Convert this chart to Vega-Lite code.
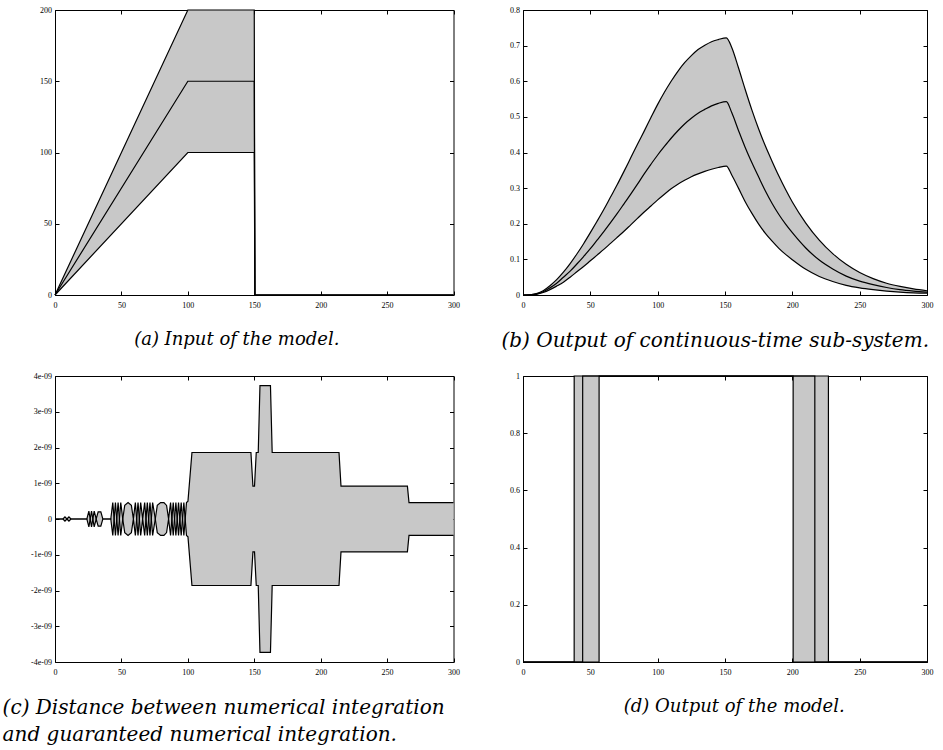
{
  "$schema": "https://vega.github.io/schema/vega-lite/v6.json",
  "padding": {"left": 2, "top": 5, "right": 0, "bottom": 0},
  "background": "white",
  "columns": 2,
  "align": "all",
  "bounds": "flush",
  "spacing": {"row": 80, "column": 64},
  "config": {
    "view": {"stroke": "black", "strokeWidth": 1},
    "axis": {"domain": false, "grid": false, "tickSize": -4, "tickColor": "black", "tickWidth": 1, "labelFont": "Liberation Serif", "labelFontSize": 8, "labelColor": "black", "labelPadding": 7.5, "labelFlush": false, "labelOverlap": false, "title": null, "minExtent": 0, "labelExpr": "'' + datum.value"},
    "axisX": {"labelPadding": 10},
    "title": {"font": "DejaVu Serif", "fontSize": 19, "fontStyle": "italic", "fontWeight": "normal", "color": "black", "orient": "bottom", "anchor": "middle", "frame": "bounds", "offset": 22}
  },
  "datasets": {
    "a": [
      {"i": 0, "x": 0, "lo": 0, "mid": 0, "hi": 0},
      {"i": 1, "x": 100, "lo": 100, "mid": 150, "hi": 200},
      {"i": 2, "x": 150, "lo": 100, "mid": 150, "hi": 200},
      {"i": 3, "x": 150.5, "lo": 0, "mid": 0, "hi": 0},
      {"i": 4, "x": 300, "lo": 0, "mid": 0, "hi": 0}
    ],
    "b": [
      {"i": 0, "x": 0, "lo": 0, "mid": 0, "hi": 0},
      {"i": 1, "x": 5, "lo": 0.0003, "mid": 0.0005, "hi": 0.0007},
      {"i": 2, "x": 10, "lo": 0.002, "mid": 0.003, "hi": 0.004},
      {"i": 3, "x": 15, "lo": 0.007, "mid": 0.009, "hi": 0.012},
      {"i": 4, "x": 20, "lo": 0.015, "mid": 0.02, "hi": 0.026},
      {"i": 5, "x": 25, "lo": 0.025, "mid": 0.033, "hi": 0.043},
      {"i": 6, "x": 30, "lo": 0.036, "mid": 0.05, "hi": 0.064},
      {"i": 7, "x": 35, "lo": 0.05, "mid": 0.067, "hi": 0.088},
      {"i": 8, "x": 40, "lo": 0.065, "mid": 0.087, "hi": 0.115},
      {"i": 9, "x": 45, "lo": 0.08, "mid": 0.108, "hi": 0.144},
      {"i": 10, "x": 50, "lo": 0.096, "mid": 0.13, "hi": 0.175},
      {"i": 11, "x": 55, "lo": 0.112, "mid": 0.154, "hi": 0.207},
      {"i": 12, "x": 60, "lo": 0.128, "mid": 0.178, "hi": 0.24},
      {"i": 13, "x": 65, "lo": 0.145, "mid": 0.203, "hi": 0.275},
      {"i": 14, "x": 70, "lo": 0.162, "mid": 0.229, "hi": 0.31},
      {"i": 15, "x": 75, "lo": 0.179, "mid": 0.256, "hi": 0.347},
      {"i": 16, "x": 80, "lo": 0.197, "mid": 0.283, "hi": 0.385},
      {"i": 17, "x": 85, "lo": 0.215, "mid": 0.311, "hi": 0.423},
      {"i": 18, "x": 90, "lo": 0.233, "mid": 0.34, "hi": 0.46},
      {"i": 19, "x": 95, "lo": 0.25, "mid": 0.367, "hi": 0.498},
      {"i": 20, "x": 100, "lo": 0.267, "mid": 0.393, "hi": 0.535},
      {"i": 21, "x": 105, "lo": 0.283, "mid": 0.417, "hi": 0.569},
      {"i": 22, "x": 110, "lo": 0.298, "mid": 0.44, "hi": 0.6},
      {"i": 23, "x": 115, "lo": 0.311, "mid": 0.461, "hi": 0.628},
      {"i": 24, "x": 120, "lo": 0.322, "mid": 0.48, "hi": 0.652},
      {"i": 25, "x": 125, "lo": 0.332, "mid": 0.496, "hi": 0.672},
      {"i": 26, "x": 130, "lo": 0.34, "mid": 0.51, "hi": 0.689},
      {"i": 27, "x": 135, "lo": 0.347, "mid": 0.521, "hi": 0.701},
      {"i": 28, "x": 140, "lo": 0.353, "mid": 0.531, "hi": 0.711},
      {"i": 29, "x": 145, "lo": 0.358, "mid": 0.538, "hi": 0.717},
      {"i": 30, "x": 151, "lo": 0.362, "mid": 0.543, "hi": 0.722},
      {"i": 31, "x": 155, "lo": 0.337, "mid": 0.512, "hi": 0.695},
      {"i": 32, "x": 160, "lo": 0.3, "mid": 0.462, "hi": 0.638},
      {"i": 33, "x": 165, "lo": 0.262, "mid": 0.414, "hi": 0.577},
      {"i": 34, "x": 170, "lo": 0.229, "mid": 0.371, "hi": 0.519},
      {"i": 35, "x": 175, "lo": 0.199, "mid": 0.331, "hi": 0.466},
      {"i": 36, "x": 180, "lo": 0.173, "mid": 0.292, "hi": 0.418},
      {"i": 37, "x": 185, "lo": 0.151, "mid": 0.257, "hi": 0.375},
      {"i": 38, "x": 190, "lo": 0.131, "mid": 0.226, "hi": 0.334},
      {"i": 39, "x": 195, "lo": 0.114, "mid": 0.199, "hi": 0.296},
      {"i": 40, "x": 200, "lo": 0.099, "mid": 0.175, "hi": 0.261},
      {"i": 41, "x": 210, "lo": 0.072, "mid": 0.132, "hi": 0.202},
      {"i": 42, "x": 220, "lo": 0.052, "mid": 0.098, "hi": 0.154},
      {"i": 43, "x": 230, "lo": 0.038, "mid": 0.073, "hi": 0.116},
      {"i": 44, "x": 240, "lo": 0.027, "mid": 0.053, "hi": 0.086},
      {"i": 45, "x": 250, "lo": 0.02, "mid": 0.039, "hi": 0.063},
      {"i": 46, "x": 260, "lo": 0.015, "mid": 0.029, "hi": 0.046},
      {"i": 47, "x": 270, "lo": 0.011, "mid": 0.021, "hi": 0.033},
      {"i": 48, "x": 280, "lo": 0.008, "mid": 0.015, "hi": 0.024},
      {"i": 49, "x": 290, "lo": 0.006, "mid": 0.011, "hi": 0.017},
      {"i": 50, "x": 300, "lo": 0.005, "mid": 0.008, "hi": 0.012}
    ],
    "c": [
      {"i": 0, "x": 0, "lo": 0, "hi": 0},
      {"i": 1, "x": 6, "lo": 0, "hi": 0},
      {"i": 2, "x": 7.5, "lo": -6e-11, "hi": 6e-11},
      {"i": 3, "x": 9, "lo": 0, "hi": 0},
      {"i": 4, "x": 10.5, "lo": -6e-11, "hi": 6e-11},
      {"i": 5, "x": 12, "lo": 0, "hi": 0},
      {"i": 6, "x": 24, "lo": 0, "hi": 0},
      {"i": 7, "x": 25.5, "lo": -2.2e-10, "hi": 2.2e-10},
      {"i": 8, "x": 27.5, "lo": 2.2e-10, "hi": -2.2e-10},
      {"i": 9, "x": 29.5, "lo": -2.2e-10, "hi": 2.2e-10},
      {"i": 10, "x": 31, "lo": 0, "hi": 0},
      {"i": 11, "x": 32.5, "lo": -2e-10, "hi": 2e-10},
      {"i": 12, "x": 34.5, "lo": -2e-10, "hi": 2e-10},
      {"i": 13, "x": 36, "lo": 0, "hi": 0},
      {"i": 14, "x": 42, "lo": 0, "hi": 0},
      {"i": 15, "x": 43.5, "lo": -4.6e-10, "hi": 4.6e-10},
      {"i": 16, "x": 45.5, "lo": 4.6e-10, "hi": -4.6e-10},
      {"i": 17, "x": 47.5, "lo": -4.6e-10, "hi": 4.6e-10},
      {"i": 18, "x": 49.5, "lo": 4.6e-10, "hi": -4.6e-10},
      {"i": 19, "x": 51, "lo": 0, "hi": 0},
      {"i": 20, "x": 52.5, "lo": -3.8e-10, "hi": 3.8e-10},
      {"i": 21, "x": 55, "lo": -4.6e-10, "hi": 4.6e-10},
      {"i": 22, "x": 57.5, "lo": -3.8e-10, "hi": 3.8e-10},
      {"i": 23, "x": 59, "lo": 0, "hi": 0},
      {"i": 24, "x": 60.5, "lo": -4.6e-10, "hi": 4.6e-10},
      {"i": 25, "x": 62.5, "lo": 4.6e-10, "hi": -4.6e-10},
      {"i": 26, "x": 64.5, "lo": -4.6e-10, "hi": 4.6e-10},
      {"i": 27, "x": 66, "lo": 0, "hi": 0},
      {"i": 28, "x": 67.5, "lo": -4.6e-10, "hi": 4.6e-10},
      {"i": 29, "x": 69.5, "lo": 4.6e-10, "hi": -4.6e-10},
      {"i": 30, "x": 71.5, "lo": -4.6e-10, "hi": 4.6e-10},
      {"i": 31, "x": 73.5, "lo": 4.6e-10, "hi": -4.6e-10},
      {"i": 32, "x": 75.5, "lo": 0, "hi": 0},
      {"i": 33, "x": 77, "lo": -3.8e-10, "hi": 3.8e-10},
      {"i": 34, "x": 79.5, "lo": -4.6e-10, "hi": 4.6e-10},
      {"i": 35, "x": 82, "lo": -4.6e-10, "hi": 4.6e-10},
      {"i": 36, "x": 84, "lo": -3.8e-10, "hi": 3.8e-10},
      {"i": 37, "x": 85.5, "lo": 0, "hi": 0},
      {"i": 38, "x": 87, "lo": -4.6e-10, "hi": 4.6e-10},
      {"i": 39, "x": 89, "lo": 4.6e-10, "hi": -4.6e-10},
      {"i": 40, "x": 91, "lo": -4.6e-10, "hi": 4.6e-10},
      {"i": 41, "x": 93, "lo": 4.6e-10, "hi": -4.6e-10},
      {"i": 42, "x": 95, "lo": -4.6e-10, "hi": 4.6e-10},
      {"i": 43, "x": 97, "lo": 4.6e-10, "hi": -4.6e-10},
      {"i": 44, "x": 99, "lo": -4.6e-10, "hi": 4.6e-10},
      {"i": 45, "x": 100.1, "lo": -5e-10, "hi": 5e-10},
      {"i": 46, "x": 103.1, "lo": -1.86e-9, "hi": 1.86e-9},
      {"i": 47, "x": 147.5, "lo": -1.86e-9, "hi": 1.86e-9},
      {"i": 48, "x": 149, "lo": -9.2e-10, "hi": 9.2e-10},
      {"i": 49, "x": 150.2, "lo": -9.2e-10, "hi": 9.2e-10},
      {"i": 50, "x": 151.5, "lo": -1.86e-9, "hi": 1.86e-9},
      {"i": 51, "x": 153, "lo": -1.86e-9, "hi": 1.86e-9},
      {"i": 52, "x": 154.3, "lo": -3.73e-9, "hi": 3.73e-9},
      {"i": 53, "x": 162.2, "lo": -3.73e-9, "hi": 3.73e-9},
      {"i": 54, "x": 163.5, "lo": -1.86e-9, "hi": 1.86e-9},
      {"i": 55, "x": 213.8, "lo": -1.86e-9, "hi": 1.86e-9},
      {"i": 56, "x": 215.3, "lo": -9.2e-10, "hi": 9.2e-10},
      {"i": 57, "x": 265.3, "lo": -9.2e-10, "hi": 9.2e-10},
      {"i": 58, "x": 266.5, "lo": -4.6e-10, "hi": 4.6e-10},
      {"i": 59, "x": 300, "lo": -4.6e-10, "hi": 4.6e-10}
    ],
    "d": [
      {"i": 0, "x": 0, "lo": 0, "mid": 0, "hi": 0},
      {"i": 1, "x": 38, "lo": 0, "mid": 0, "hi": 0},
      {"i": 2, "x": 38.01, "lo": 0, "mid": 0, "hi": 1},
      {"i": 3, "x": 44.3, "lo": 0, "mid": 0, "hi": 1},
      {"i": 4, "x": 44.31, "lo": 0, "mid": 1, "hi": 1},
      {"i": 5, "x": 56.5, "lo": 0, "mid": 1, "hi": 1},
      {"i": 6, "x": 56.51, "lo": 1, "mid": 1, "hi": 1},
      {"i": 7, "x": 200.6, "lo": 1, "mid": 1, "hi": 1},
      {"i": 8, "x": 200.61, "lo": 0, "mid": 1, "hi": 1},
      {"i": 9, "x": 216.7, "lo": 0, "mid": 1, "hi": 1},
      {"i": 10, "x": 216.71, "lo": 0, "mid": 0, "hi": 1},
      {"i": 11, "x": 226.8, "lo": 0, "mid": 0, "hi": 1},
      {"i": 12, "x": 226.81, "lo": 0, "mid": 0, "hi": 0},
      {"i": 13, "x": 300, "lo": 0, "mid": 0, "hi": 0}
    ]
  },
  "concat": [
    {
      "width": 398.5, "height": 285,
      "title": {"text": "(a) Input of the model.", "dx": -2, "fontSize": 18},
      "data": {"name": "a"},
      "resolve": {"axis": {"x": "independent", "y": "independent"}},
      "layer": [
        {
          "mark": {"type": "area", "fill": "#c8c8c8", "fillOpacity": 1},
          "encoding": {
            "x": {"field": "x", "type": "quantitative", "scale": {"domain": [0, 300], "nice": false}, "axis": {"orient": "bottom", "values": [0, 50, 100, 150, 200, 250, 300]}},
            "y": {"field": "lo", "type": "quantitative", "scale": {"domain": [0, 200], "nice": false}, "axis": {"orient": "left", "minExtent": 37, "values": [0, 50, 100, 150, 200]}},
            "y2": {"field": "hi"}
          }
        },
        {
          "transform": [{"fold": ["lo", "mid", "hi"], "as": ["series", "v"]}],
          "mark": {"type": "line", "color": "black", "strokeWidth": 1.2},
          "encoding": {
            "x": {"field": "x", "type": "quantitative", "axis": {"orient": "top", "labels": false, "values": [0, 50, 100, 150, 200, 250, 300]}},
            "y": {"field": "v", "type": "quantitative", "axis": {"orient": "right", "labels": false, "values": [0, 50, 100, 150, 200]}},
            "detail": {"field": "series"},
            "order": {"field": "i", "type": "quantitative"}
          }
        }
      ]
    },
    {
      "width": 404, "height": 285,
      "title": {"text": "(b) Output of continuous-time sub-system.", "dx": -6, "fontSize": 20},
      "data": {"name": "b"},
      "resolve": {"axis": {"x": "independent", "y": "independent"}},
      "layer": [
        {
          "mark": {"type": "area", "fill": "#c8c8c8", "fillOpacity": 1, "interpolate": "monotone"},
          "encoding": {
            "x": {"field": "x", "type": "quantitative", "scale": {"domain": [0, 300], "nice": false}, "axis": {"orient": "bottom", "values": [0, 50, 100, 150, 200, 250, 300]}},
            "y": {"field": "lo", "type": "quantitative", "scale": {"domain": [0, 0.8], "nice": false}, "axis": {"orient": "left", "values": [0, 0.1, 0.2, 0.3, 0.4, 0.5, 0.6, 0.7, 0.8]}},
            "y2": {"field": "hi"}
          }
        },
        {
          "transform": [{"fold": ["lo", "mid", "hi"], "as": ["series", "v"]}],
          "mark": {"type": "line", "color": "black", "strokeWidth": 1.2, "interpolate": "monotone"},
          "encoding": {
            "x": {"field": "x", "type": "quantitative", "axis": {"orient": "top", "labels": false, "values": [0, 50, 100, 150, 200, 250, 300]}},
            "y": {"field": "v", "type": "quantitative", "axis": {"orient": "right", "labels": false, "values": [0, 0.1, 0.2, 0.3, 0.4, 0.5, 0.6, 0.7, 0.8]}},
            "detail": {"field": "series"},
            "order": {"field": "i", "type": "quantitative"}
          }
        }
      ]
    },
    {
      "width": 398.5, "height": 286,
      "title": {"text": ["(c) Distance between numerical integration", "and guaranteed numerical integration."], "anchor": "start", "dx": -28, "lineHeight": 27, "fontSize": 20},
      "data": {"name": "c"},
      "resolve": {"axis": {"x": "independent", "y": "independent"}},
      "layer": [
        {
          "mark": {"type": "area", "fill": "#c8c8c8", "fillOpacity": 1},
          "encoding": {
            "x": {"field": "x", "type": "quantitative", "scale": {"domain": [0, 300], "nice": false}, "axis": {"orient": "bottom", "values": [0, 50, 100, 150, 200, 250, 300]}},
            "y": {"field": "lo", "type": "quantitative", "scale": {"domain": [-4e-9, 4e-9], "nice": false}, "axis": {"orient": "left", "values": [-4e-9, -3e-9, -2e-9, -1e-9, 0, 1e-9, 2e-9, 3e-9, 4e-9], "labelExpr": "datum.value == 0 ? '0' : round(datum.value * 1e9) + 'e-09'"}},
            "y2": {"field": "hi"}
          }
        },
        {
          "transform": [{"fold": ["lo", "hi"], "as": ["series", "v"]}],
          "mark": {"type": "line", "color": "black", "strokeWidth": 1.2},
          "encoding": {
            "x": {"field": "x", "type": "quantitative", "axis": {"orient": "top", "labels": false, "values": [0, 50, 100, 150, 200, 250, 300]}},
            "y": {"field": "v", "type": "quantitative", "axis": {"orient": "right", "labels": false, "values": [-4e-9, -3e-9, -2e-9, -1e-9, 0, 1e-9, 2e-9, 3e-9, 4e-9]}},
            "detail": {"field": "series"},
            "order": {"field": "i", "type": "quantitative"}
          }
        }
      ]
    },
    {
      "width": 404, "height": 286,
      "title": {"text": "(d) Output of the model.", "dx": 13, "fontSize": 18},
      "data": {"name": "d"},
      "resolve": {"axis": {"x": "independent", "y": "independent"}},
      "layer": [
        {
          "mark": {"type": "area", "fill": "#c8c8c8", "fillOpacity": 1},
          "encoding": {
            "x": {"field": "x", "type": "quantitative", "scale": {"domain": [0, 300], "nice": false}, "axis": {"orient": "bottom", "values": [0, 50, 100, 150, 200, 250, 300]}},
            "y": {"field": "lo", "type": "quantitative", "scale": {"domain": [0, 1], "nice": false}, "axis": {"orient": "left", "values": [0, 0.2, 0.4, 0.6, 0.8, 1]}},
            "y2": {"field": "hi"}
          }
        },
        {
          "transform": [{"fold": ["lo", "mid", "hi"], "as": ["series", "v"]}],
          "mark": {"type": "line", "color": "black", "strokeWidth": 1.2},
          "encoding": {
            "x": {"field": "x", "type": "quantitative", "axis": {"orient": "top", "labels": false, "values": [0, 50, 100, 150, 200, 250, 300]}},
            "y": {"field": "v", "type": "quantitative", "axis": {"orient": "right", "labels": false, "values": [0, 0.2, 0.4, 0.6, 0.8, 1]}},
            "detail": {"field": "series"},
            "order": {"field": "i", "type": "quantitative"}
          }
        }
      ]
    }
  ]
}
